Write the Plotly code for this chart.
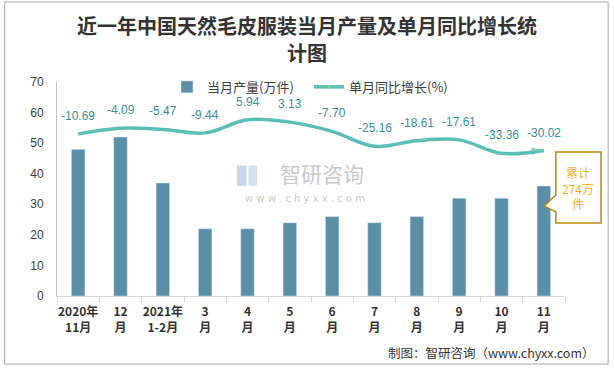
import plotly.graph_objects as go

categories = ["2020年<br>11月", "12<br>月", "2021年<br>1-2月", "3<br>月", "4<br>月", "5<br>月",
              "6<br>月", "7<br>月", "8<br>月", "9<br>月", "10<br>月", "11<br>月"]
production = [48, 52, 37, 22, 22, 24, 26, 24, 26, 32, 32, 36]
growth = [-10.69, -4.09, -5.47, -9.44, 5.94, 3.13, -7.70, -25.16, -18.61, -17.61, -33.36, -30.02]
growth_labels = ["-10.69", "-4.09", "-5.47", "-9.44", "5.94", "3.13", "-7.70", "-25.16",
                 "-18.61", "-17.61", "-33.36", "-30.02"]

bar_color = "#5B8FA8"
line_color = "#5BBFB5"
label_color = "#3C8E95"
font_cjk = "Noto Sans CJK SC"

n = len(categories)
sym = ["circle"] + ["circle"] * (n - 2) + ["arrow"]
sizes = [12] + [0] * (n - 2) + [13]
mcolors = ["#F5B324"] + [line_color] * (n - 1)

fig = go.Figure()
fig.add_trace(go.Bar(
    x=categories, y=production, name="当月产量(万件)",
    marker=dict(color=bar_color), width=0.32,
))
fig.add_trace(go.Scatter(
    x=categories, y=growth, name="单月同比增长(%)", yaxis="y2",
    mode="lines+markers",
    line=dict(color=line_color, width=3.5, shape="spline", smoothing=1.0),
    marker=dict(symbol=sym, size=sizes, color=mcolors, angleref="previous",
                line=dict(width=0)),
))

for c, g, t in zip(categories, growth, growth_labels):
    fig.add_annotation(x=c, y=g, yref="y2", text=t, showarrow=False, yshift=18,
                       font=dict(family="Liberation Sans, Arial", size=12, color=label_color))

# title (two lines)
fig.add_annotation(xref="paper", yref="paper", x=0.4931, xanchor="center", y=1.265, yanchor="middle",
                   text="<b>近一年中国天然毛皮服装当月产量及单月同比增长统</b>",
                   showarrow=False, font=dict(family=font_cjk, size=20, color="#333333"))
fig.add_annotation(xref="paper", yref="paper", x=0.4931, xanchor="center", y=1.138, yanchor="middle",
                   text="<b>计图</b>",
                   showarrow=False, font=dict(family=font_cjk, size=20, color="#333333"))

# watermark
fig.add_annotation(xref="paper", yref="paper", x=0.522, xanchor="center", y=0.575, text="智研咨询",
                   showarrow=False, font=dict(family=font_cjk, size=21, color="#C9C9C9"))
fig.add_annotation(xref="paper", yref="paper", x=0.488, xanchor="center", y=0.455,
                   text="w w w . c h y x x . c o m",
                   showarrow=False, font=dict(family="DejaVu Sans", size=10, color="#C9C9C9"))
fig.add_shape(type="rect", xref="paper", yref="paper", x0=0.354, x1=0.373, y0=0.515, y1=0.61,
              line=dict(width=0), fillcolor="#C9D6E6", layer="below")
fig.add_shape(type="rect", xref="paper", yref="paper", x0=0.377, x1=0.394, y0=0.515, y1=0.61,
              line=dict(width=0), fillcolor="#D8E2EE", layer="below")

# callout box
fig.add_shape(type="path", xref="paper", yref="paper",
              path="M 0.982 0.673 L 1.071 0.673 L 1.071 0.341 L 0.982 0.341 L 0.982 0.393 L 0.959 0.421 L 0.982 0.472 Z",
              line=dict(color="#B8860B", width=1.5), fillcolor="white")
fig.add_annotation(xref="paper", yref="paper", x=1.0265, xanchor="center", y=0.507, yanchor="middle",
                   text="累计<br>274万<br>件", showarrow=False, align="center",
                   font=dict(family=font_cjk, size=12, color="#F5B324"))

# footer
fig.add_annotation(xref="paper", yref="paper", x=1.063, xanchor="right", y=-0.262, yanchor="middle",
                   text="制图：智研咨询（www.chyxx.com）", showarrow=False,
                   font=dict(family=font_cjk, size=12.5, color="#333333"))

# outer border
fig.add_shape(type="rect", xref="paper", yref="paper", x0=-0.103, x1=1.085, y0=-0.318, y1=1.374,
              line=dict(color="#A6A6A6", width=1), fillcolor="rgba(0,0,0,0)")

fig.update_layout(
    width=614, height=368,
    margin=dict(l=57, r=49, t=82, b=72, autoexpand=False),
    paper_bgcolor="white", plot_bgcolor="white",
    font=dict(family=font_cjk, color="#404040"),
    showlegend=True,
    legend=dict(orientation="h", x=0.2165, xanchor="left", y=0.977, yanchor="middle",
                entrywidth=97, entrywidthmode="pixels",
                font=dict(family=font_cjk, size=13, color="#404040"), bgcolor="rgba(0,0,0,0)"),
    bargap=0.68,
    xaxis=dict(range=[-0.5, 11.5], showline=True, linecolor="#D9D9D9", linewidth=1, ticks="outside",
               tickson="boundaries", ticklen=5, tickcolor="#D9D9D9", tickangle=0,
               automargin=False, ticklabelstandoff=5,
               tickfont=dict(family=font_cjk, size=12, color="#333333", weight="bold"),
               showgrid=False, fixedrange=True),
    yaxis=dict(range=[0, 70], dtick=10, showline=True, linecolor="#BFBFBF", linewidth=1,
               showgrid=False, zeroline=False, ticks="", ticklabelstandoff=10, automargin=False,
               tickfont=dict(family="Liberation Sans, Arial", size=12, color="#404040")),
    yaxis2=dict(range=[-200, 50], overlaying="y", side="right", visible=False,
                showgrid=False, zeroline=False, automargin=False),
)

fig.write_html("out.html", config={"displayModeBar": False},
               post_script="document.body.style.margin='0';document.body.style.padding='0';")
